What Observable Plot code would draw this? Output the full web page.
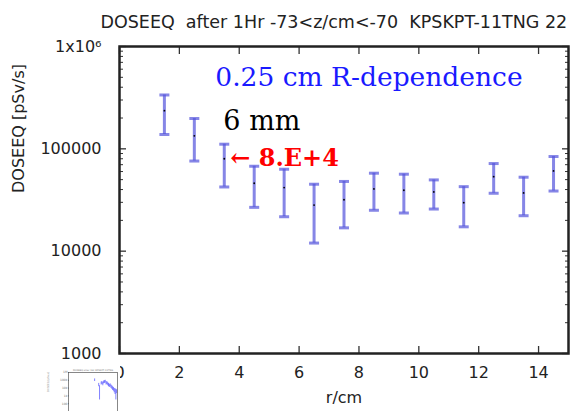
<!DOCTYPE html>
<html>
<head>
<meta charset="utf-8">
<script src="https://cdn.jsdelivr.net/npm/d3@7"></script>
<script src="https://cdn.jsdelivr.net/npm/@observablehq/plot@0.6"></script>
<style>
  body { margin: 0; background: #fff; }
  #chart { position: relative; width: 575px; height: 411px; overflow: hidden; }
  #thumb { position: absolute; left: 44px; top: 361px; }
</style>
</head>
<body>
<div id="chart"></div>
<script>
// Dose equivalent rate vs radius, one error bar per 1 cm radial bin
const radius  = [1.5, 2.5, 3.5, 4.5, 5.5, 6.5, 7.5, 8.5, 9.5, 10.5, 11.5, 12.5, 13.5, 14.5];
const dose    = [236000, 134000, 80000, 46100, 41800, 28200, 31800, 40600, 39400, 37900, 29800, 53400, 37100, 60800];
const doseHi  = [336000, 198000, 111000, 67600, 63200, 45100, 48000, 57800, 56500, 49700, 42700, 71800, 52800, 84100];
const doseLo  = [138000, 76000, 42400, 26800, 21700, 12000, 16900, 25100, 23600, 25800, 17300, 36800, 22200, 38700];

// axis ticks
const xTicks = [0, 2, 4, 6, 8, 10, 12, 14];
const yMajor = [1000, 10000, 100000, 1000000];
const yLabels = ["1000", "10000", "100000", "1x10\u2076"];
const yMinor = [1000, 10000, 100000].flatMap(d => [2, 3, 4, 5, 6, 7, 8, 9].map(k => k * d));

// annotations
const title = "DOSEEQ\u00a0 after 1Hr -73<z/cm<-70\u00a0 KPSKPT-11TNG 22";
const noteScope = {r: 3.2, v: 497000, text: "0.25 cm R-dependence"};
const noteSize = {r: 3.47, v: 184000, text: "6 mm"};
const noteValue = {r: 3.7, v: 80000, text: "\u2190 8.E+4"};

// small overview plot of the full range (bottom-left corner)
const thumbR  = [32, 37, 38, 40, 41, 42, 43, 44, 45, 46, 47, 48, 49, 50, 51, 52, 53, 54, 55, 56, 57, 58, 59];
const thumbHi = [150000, 40000, 20000, 60000, 70000, 50000, 80000, 90000, 100000, 60000, 70000, 50000, 40000, 30000, 35000, 25000, 20000, 15000, 12000, 9000, 8000, 7000, 6000];
const thumbLo = [70000, 15000, 300, 25000, 30000, 20000, 35000, 40000, 45000, 25000, 28000, 20000, 15000, 12000, 14000, 9000, 7000, 5000, 4000, 2500, 1500, 300, 2000];

const rows = radius.map((r, i) => ({r, v: dose[i], lo: doseLo[i], hi: doseHi[i]}));
const thumbRows = thumbR.map((r, i) => ({r, lo: thumbLo[i], hi: thumbHi[i]}));

// horizontal dash used for error-bar caps
const cap = {draw(ctx, size) { const h = Math.sqrt(size / Math.PI); ctx.moveTo(-h, 0); ctx.lineTo(h, 0); }};
const barColor = "#5252dc";
const axisColor = "#333";
const serif = "DejaVu Serif";

const chart = Plot.plot({
  width: 575,
  height: 411,
  marginTop: 46,
  marginBottom: 58,
  marginLeft: 119,
  marginRight: 7,
  style: {fontFamily: "DejaVu Sans", fontSize: "16px", color: "#222", background: "#fff"},
  x: {domain: [0, 15]},
  y: {type: "log", domain: [1000, 1e6]},
  marks: [
    Plot.ruleX(rows, {x: "r", y1: "lo", y2: "hi", stroke: barColor, strokeWidth: 3, strokeOpacity: 0.7}),
    Plot.dot(rows, {x: "r", y: "hi", symbol: cap, r: 5, fill: "none", stroke: barColor, strokeWidth: 3, strokeOpacity: 0.7}),
    Plot.dot(rows, {x: "r", y: "lo", symbol: cap, r: 5, fill: "none", stroke: barColor, strokeWidth: 3, strokeOpacity: 0.7}),
    Plot.dot(rows, {x: "r", y: "v", r: 0.9, fill: "#000", stroke: null}),

    // inward ticks on all four sides
    Plot.axisY(yMajor, {anchor: "left", tickSize: -7, tickPadding: 25, stroke: axisColor, strokeWidth: 1.3,
      tickFormat: d => yLabels[yMajor.indexOf(d)], label: null, fontSize: 16}),
    Plot.axisY(yMinor, {anchor: "left", tickSize: -4, tickFormat: () => "", stroke: axisColor, label: null}),
    Plot.axisY(yMajor, {anchor: "right", tickSize: -7, tickFormat: () => "", stroke: axisColor, strokeWidth: 1.3, label: null}),
    Plot.axisY(yMinor, {anchor: "right", tickSize: -4, tickFormat: () => "", stroke: axisColor, label: null}),
    Plot.axisX(xTicks, {anchor: "bottom", tickSize: -7, tickPadding: 20, stroke: axisColor, strokeWidth: 1.3, label: null, fontSize: 16}),
    Plot.axisX(xTicks, {anchor: "top", tickSize: -7, tickFormat: () => "", stroke: axisColor, strokeWidth: 1.3, label: null}),
    Plot.frame({stroke: "#222", strokeWidth: 2.5}),

    // axis titles and heading
    Plot.text(["DOSEEQ [pSv/s]"], {frameAnchor: "left", rotate: -90, dx: -101, dy: -7, fontSize: 16}),
    Plot.text(["r/cm"], {frameAnchor: "bottom", dy: 49, fontSize: 16}),
    Plot.text([title], {frameAnchor: "top-left", textAnchor: "start", dx: -19, dy: -31, fontSize: 17.5}),

    // annotations
    Plot.text([noteScope], {x: "r", y: "v", text: "text", fill: "#1a1aff", fontSize: 26.5, textAnchor: "start", fontFamily: serif}),
    Plot.text([noteSize], {x: "r", y: "v", text: "text", fill: "#000", fontSize: 27, textAnchor: "start", fontFamily: serif}),
    Plot.text([noteValue], {x: "r", y: "v", text: "text", fill: "#ff0000", fontSize: 24, fontWeight: "bold", textAnchor: "start", fontFamily: serif})
  ]
});
document.getElementById("chart").append(chart);

const thumb = Plot.plot({
  width: 76,
  height: 60,
  marginTop: 11,
  marginBottom: 10,
  marginLeft: 24,
  marginRight: 3,
  style: {fontFamily: "DejaVu Sans", fontSize: "3px", color: "#777", background: "#fff"},
  x: {domain: [0, 60]},
  y: {type: "log", domain: [10, 1e6]},
  marks: [
    Plot.ruleX(thumbRows, {x: "r", y1: "lo", y2: "hi", stroke: "#3a3aff", strokeWidth: 0.8, strokeOpacity: 0.8}),
    Plot.axisY([100, 1000, 10000, 100000, 1e6], {anchor: "left", tickSize: -1, tickPadding: 2, fontSize: 3, label: null, stroke: "#888"}),
    Plot.axisX([0, 10, 20, 30, 40, 50], {anchor: "bottom", tickSize: 0, tickFormat: () => "", label: null}),
    Plot.frame({stroke: "#555", strokeWidth: 0.7}),
    Plot.text(["DOSEEQ [pSv/s]"], {frameAnchor: "left", rotate: -90, dx: -20, fontSize: 2.5, fill: "#888"}),
    Plot.text(["DOSEEQ after 1Hr KPSKPT-11TNG"], {frameAnchor: "top", dy: -3, fontSize: 2.4, fill: "#777"})
  ]
});
thumb.id = "thumb";
document.getElementById("chart").append(thumb);
</script>
</body>
</html>
